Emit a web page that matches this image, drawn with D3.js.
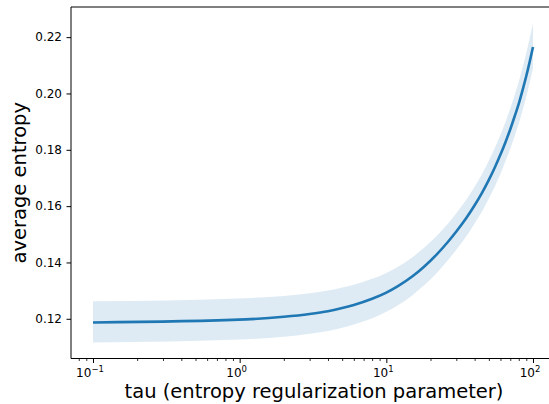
<!DOCTYPE html>
<html>
<head>
<meta charset="utf-8">
<script src="https://cdn.jsdelivr.net/npm/d3@7"></script>
<style>
  body { margin: 0; background: #fff; }
  svg { display: block; font-family: "DejaVu Sans", sans-serif; }
</style>
</head>
<body>
<div id="chart"></div>
<script>
var svgWidth = 549;
var svgHeight = 404;

// tau values (log x axis) and the averaged entropy with its band
var tau = [0.1, 1.1, 2, 3, 4, 5, 6, 8, 10, 12, 15, 18, 22, 26, 30, 35, 40, 45, 50,
    55, 60, 65, 70, 75, 80, 85, 90, 95, 100];
var meanEntropy = [0.1187, 0.1198, 0.1207, 0.1217, 0.1227, 0.1238, 0.1249, 0.1271, 0.1293,
    0.1316, 0.1350, 0.1384, 0.1428, 0.1470, 0.1510, 0.1557, 0.1603, 0.1648, 0.1693,
    0.1738, 0.1783, 0.1828, 0.1873, 0.1919, 0.1964, 0.2013, 0.2062, 0.2113, 0.2165];
var upperEntropy = [0.1262, 0.1273, 0.1281, 0.1291, 0.1300, 0.1311, 0.1321, 0.1342, 0.1363,
    0.1385, 0.1418, 0.1451, 0.1494, 0.1535, 0.1575, 0.1622, 0.1669, 0.1715, 0.1761,
    0.1807, 0.1853, 0.1900, 0.1947, 0.1995, 0.2042, 0.2093, 0.2144, 0.2197, 0.2250];
var lowerEntropy = [0.1116, 0.1127, 0.1136, 0.1147, 0.1157, 0.1168, 0.1180, 0.1202, 0.1225,
    0.1248, 0.1283, 0.1318, 0.1362, 0.1405, 0.1445, 0.1492, 0.1538, 0.1582, 0.1627,
    0.1671, 0.1715, 0.1760, 0.1804, 0.1849, 0.1893, 0.1941, 0.1989, 0.2039, 0.2090];
var yTicks = [0.12, 0.14, 0.16, 0.18, 0.20, 0.22];
var xTicks = [0.1, 1, 10, 100];
var xTickExp = ['\u22121', '0', '1', '2'];

var margin = { top: 7, left: 71, bottom: 358.5, right: 555 };

var data = tau.map(function(t, i) {
    return { tau: t, mean: meanEntropy[i], lo: lowerEntropy[i], hi: upperEntropy[i] };
});

var svg = d3.select('#chart')
    .append('svg')
    .attr('width', svgWidth)
    .attr('height', svgHeight);

var x = d3.scaleLog()
    .domain([Math.pow(10, -1.15), Math.pow(10, 2.15)])
    .range([margin.left, margin.right]);

var y = d3.scaleLinear()
    .domain([0.1059, 0.2307])
    .range([margin.bottom, margin.top]);

// band
var area = d3.area()
    .x(d => x(d.tau))
    .y0(d => y(d.lo))
    .y1(d => y(d.hi))
    .curve(d3.curveMonotoneX);

svg.append('path')
    .datum(data)
    .attr('d', area)
    .attr('fill', '#1f77b4')
    .attr('fill-opacity', 0.15);

// mean line
var line = d3.line()
    .x(d => x(d.tau))
    .y(d => y(d.mean))
    .curve(d3.curveMonotoneX);

svg.append('path')
    .datum(data)
    .attr('d', line)
    .attr('fill', 'none')
    .attr('stroke', '#1f77b4')
    .attr('stroke-width', 2.6);

// minor ticks for log axis
var minorTicks = [];
[0.01, 0.1, 1, 10, 100].forEach(function(base) {
    for (var k = 2; k <= 9; k++) {
        var v = base * k;
        if (v > x.domain()[0] && v < x.domain()[1]) minorTicks.push(v);
    }
});

var xAxis = svg.append('g')
    .attr('transform', `translate(0,${margin.bottom})`)
    .call(d3.axisBottom(x).tickValues(xTicks).tickFormat('').tickSize(4.5).tickSizeOuter(0));

xAxis.select('.domain').remove();
xAxis.selectAll('.tick line').attr('stroke', '#000').attr('stroke-width', 1);

svg.append('g')
    .attr('transform', `translate(0,${margin.bottom})`)
    .call(d3.axisBottom(x).tickValues(minorTicks).tickFormat('').tickSize(2.5).tickSizeOuter(0))
    .call(g => g.select('.domain').remove())
    .selectAll('.tick line').attr('stroke', '#000').attr('stroke-width', 0.8);

// x tick labels with superscripts
xTicks.forEach(function(t, i) {
    var txt = svg.append('text')
        .attr('x', x(t) - 3)
        .attr('y', 377)
        .attr('text-anchor', 'middle')
        .attr('font-size', 12)
        .attr('fill', '#000');
    txt.append('tspan').text('10');
    txt.append('tspan')
        .attr('dy', -5)
        .attr('font-size', 8.5)
        .text(xTickExp[i]);
});

var yAxis = svg.append('g')
    .attr('transform', `translate(${margin.left},0)`)
    .call(d3.axisLeft(y).tickValues(yTicks).tickFormat(d3.format('.2f')).tickSize(4.5).tickPadding(4.5).tickSizeOuter(0));

yAxis.select('.domain').remove();
yAxis.selectAll('.tick line').attr('stroke', '#000').attr('stroke-width', 1);
yAxis.selectAll('.tick text')
    .attr('font-size', 12)
    .attr('font-family', '"DejaVu Sans", sans-serif')
    .attr('fill', '#000');

// spines
svg.append('line')
    .attr('x1', margin.left).attr('x2', margin.left)
    .attr('y1', margin.top).attr('y2', margin.bottom)
    .attr('stroke', '#000').attr('stroke-width', 1);
svg.append('line')
    .attr('x1', margin.left).attr('x2', margin.right)
    .attr('y1', margin.bottom).attr('y2', margin.bottom)
    .attr('stroke', '#000').attr('stroke-width', 1);
svg.append('line')
    .attr('x1', margin.left).attr('x2', margin.right)
    .attr('y1', margin.top).attr('y2', margin.top)
    .attr('stroke', '#000').attr('stroke-width', 1);

// axis labels
svg.append('text')
    .attr('transform', `translate(26, ${(margin.top + margin.bottom) / 2}) rotate(-90)`)
    .attr('text-anchor', 'middle')
    .attr('font-size', 19.5)
    .attr('fill', '#000')
    .text('average entropy');

svg.append('text')
    .attr('x', (margin.left + margin.right) / 2 + 1)
    .attr('y', 398)
    .attr('text-anchor', 'middle')
    .attr('font-size', 19.5)
    .attr('fill', '#000')
    .text('tau (entropy regularization parameter)');
</script>
</body>
</html>
